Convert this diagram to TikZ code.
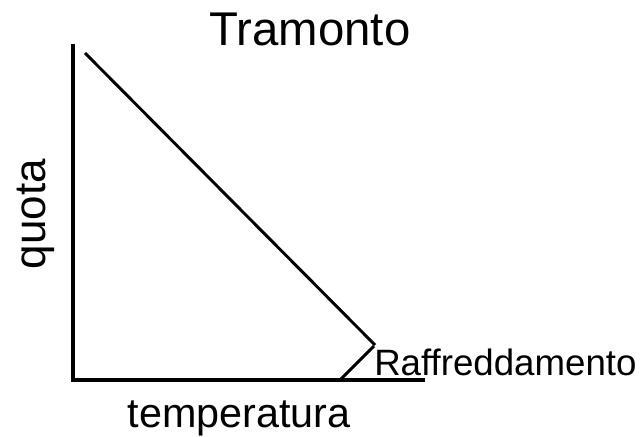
\documentclass[tikz,border=0pt]{standalone}
\usepackage{fontspec}
\setmainfont{Liberation Sans}
\begin{document}
\begin{tikzpicture}[x=0.75pt,y=-0.75pt,
  axis/.style={line width=2.4pt},
  curve/.style={line width=2.2pt},
  lbl/.style={inner sep=0pt,anchor=base}]
\useasboundingbox (0,0) rectangle (642,436);
\coordinate (top) at (73,44);
\coordinate (orig) at (73,380);
\coordinate (xend) at (425,380);
\coordinate (d1) at (85,53);
\coordinate (d2) at (375,345);
\coordinate (c1) at (340,380);
\coordinate (c2) at (374,346);
\draw[axis] (top) -- (orig) -- (xend);
\draw[curve] (d1) -- (d2);
\draw[curve] (c1) -- (c2);
\node[lbl] (title) at (310,45) {\fontsize{35.5}{42}\selectfont Tramonto};
\node[lbl] (xl) at (239,427) {\fontsize{31}{38}\selectfont temperatura};
\node[lbl,anchor=base west] (raff) at (374,375) {\fontsize{27.5}{32}\selectfont Raffreddamento};
\node[inner sep=0pt,rotate=90] (yl) at (36,214) {\fontsize{33}{40}\selectfont quota};
\end{tikzpicture}
\end{document}
